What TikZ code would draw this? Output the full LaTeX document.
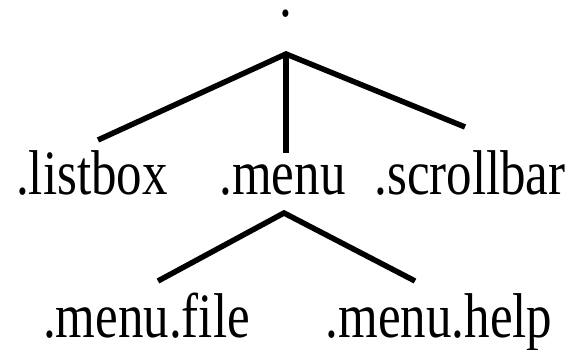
\documentclass[tikz,border=0pt]{standalone}
\usepackage{fontspec}
\setmainfont{Liberation Serif}
\usetikzlibrary{positioning}

\begin{document}
\begin{tikzpicture}[
        x=1pt, y=1pt,
        widget/.style={font=\fontsize{51}{60}\selectfont, inner sep=0pt,
                       anchor=base, yscale=1.24, transform shape},
        edge/.style={draw, line width=5.5pt}
      ]
        \useasboundingbox (0,0) rectangle (574,350);

        % Root window
        \node [widget] (root) at (286,333) {.};
        \coordinate (rootjoin) at ([yshift=-37pt]root.base);

        % Children of the root
        \node [widget] (listbox) at (92,155) {.listbox};
        \node [widget] (menu) at (282.5,155) {.menu};
        \node [widget] (scrollbar) at (470,155) {.scrollbar};
        \coordinate (menujoin) at ([xshift=1.5pt,yshift=-18pt]menu.base);

        % Children of the menu
        \node [widget] (menufile) at (146.5,12) {.menu.file};
        \node [widget] (menuhelp) at (439,12) {.menu.help};

        % Lines
        \draw [edge] ([xshift=6pt,yshift=55pt]listbox.base) -- (rootjoin)
                     -- ([xshift=-5pt,yshift=68pt]scrollbar.base);
        \draw [edge] (rootjoin) -- ([xshift=3.5pt,yshift=42pt]menu.base);
        \draw [edge] ([xshift=11.5pt,yshift=57pt]menufile.base) -- (menujoin)
                     -- ([xshift=-24pt,yshift=57pt]menuhelp.base);
      \end{tikzpicture}
\end{document}
